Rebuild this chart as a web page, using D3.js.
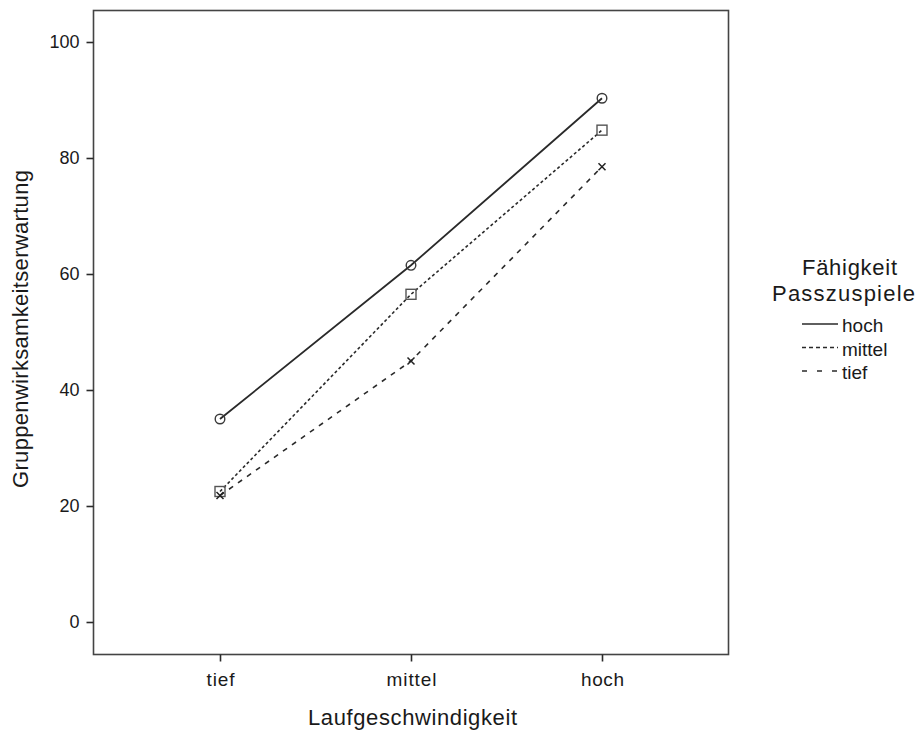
<!DOCTYPE html>
<html><head><meta charset="utf-8">
<script src="https://cdn.jsdelivr.net/npm/d3@7"></script>
<style>body{margin:0;background:#fff}svg{display:block;font-family:"Liberation Sans",Arial,sans-serif}</style>
</head><body>
<svg id="c" width="920" height="733"></svg>
<script>
const categories = ["tief", "mittel", "hoch"];
const seriesNames = ["hoch", "mittel", "tief"];
const valuesHoch = [35.0, 61.5, 90.3];
const valuesMittel = [22.5, 56.5, 84.8];
const valuesTief = [21.8, 45.0, 78.5];
const yTicks = [0, 20, 40, 60, 80, 100];

const series = [
  {name: seriesNames[0], values: valuesHoch, dash: null, legendDash: null, marker: "circle"},
  {name: seriesNames[1], values: valuesMittel, dash: "3,2.5", legendDash: "4,3", marker: "square"},
  {name: seriesNames[2], values: valuesTief, dash: "5,6", legendDash: "5,10", marker: "cross"}
];

const svg = d3.select("#c");
const L = 93.5, R = 728.5, T = 10.5, B = 654.5;
const x = d3.scalePoint().domain(categories).range([220, 602]);
const y = d3.scaleLinear().domain([0, 100]).range([622, 42]);
const ink = "#2a2a2a";
const catWidths = {tief: 28, mittel: 50, hoch: 43};

svg.append("rect").attr("x", L).attr("y", T).attr("width", R - L).attr("height", B - T)
  .attr("fill", "none").attr("stroke", "#444").attr("stroke-width", 1.6);

const yAxis = svg.append("g").attr("transform", `translate(${L},0)`)
  .call(d3.axisLeft(y).tickValues(yTicks).tickSize(7).tickPadding(7));
const xAxis = svg.append("g").attr("transform", `translate(0,${B})`)
  .call(d3.axisBottom(x).tickSize(7).tickPadding(11));
[yAxis, xAxis].forEach(g => {
  g.select(".domain").remove();
  g.selectAll("line").attr("stroke", ink).attr("stroke-width", 1.6);
  g.selectAll("text").attr("fill", "#1a1a1a").style("font-size", "18px").style("font-family", "Liberation Sans, Arial, sans-serif");
});
xAxis.selectAll("text").style("font-size", "19px")
  .attr("textLength", d => catWidths[d]).attr("lengthAdjust", "spacing");

const line = d3.line().x((d, i) => x(categories[i])).y(d => y(d));
series.forEach(s => {
  svg.append("path").datum(s.values).attr("d", line).attr("fill", "none")
    .attr("stroke", ink).attr("stroke-width", s.dash ? 1.6 : 1.8)
    .attr("stroke-dasharray", s.dash);
});
series.forEach(s => {
  s.values.forEach((v, i) => {
    const cx = x(categories[i]), cy = y(v);
    if (s.marker === "circle") {
      svg.append("circle").attr("cx", cx).attr("cy", cy).attr("r", 4.8)
        .attr("fill", "none").attr("stroke", "#3a3a3a").attr("stroke-width", 1.4);
    } else if (s.marker === "square") {
      svg.append("rect").attr("x", cx - 5).attr("y", cy - 5).attr("width", 10).attr("height", 10)
        .attr("fill", "none").attr("stroke", "#555").attr("stroke-width", 1.4);
    } else {
      const r = 3.5;
      svg.append("path").attr("d", `M${cx - r},${cy - r}L${cx + r},${cy + r}M${cx - r},${cy + r}L${cx + r},${cy - r}`)
        .attr("stroke", "#222").attr("stroke-width", 1.5);
    }
  });
});

svg.append("text").attr("x", 412.5).attr("y", 725).attr("text-anchor", "middle")
  .style("font-size", "22px").attr("fill", "#1a1a1a")
  .attr("textLength", 209).attr("lengthAdjust", "spacing").text("Laufgeschwindigkeit");
svg.append("text").attr("transform", "translate(28,329) rotate(-90)").attr("text-anchor", "middle")
  .style("font-size", "22px").attr("fill", "#1a1a1a")
  .attr("textLength", 318).attr("lengthAdjust", "spacing").text("Gruppenwirksamkeitserwartung");

const lg = svg.append("g");
lg.append("text").attr("x", 849.5).attr("y", 275).attr("text-anchor", "middle").style("font-size", "22px")
  .attr("fill", "#1a1a1a").attr("textLength", 95).attr("lengthAdjust", "spacing").text("Fähigkeit");
lg.append("text").attr("x", 843.5).attr("y", 301).attr("text-anchor", "middle").style("font-size", "22px")
  .attr("fill", "#1a1a1a").attr("textLength", 143).attr("lengthAdjust", "spacing").text("Passzuspiele");
series.forEach((s, i) => {
  const yy = 324 + i * 23.5;
  lg.append("line").attr("x1", 802).attr("x2", 838).attr("y1", yy).attr("y2", yy)
    .attr("stroke", ink).attr("stroke-width", 1.6).attr("stroke-dasharray", s.legendDash);
  lg.append("text").attr("x", 842).attr("y", yy + 8).style("font-size", "19px").attr("fill", "#1a1a1a").text(s.name);
});
</script>
</body></html>
